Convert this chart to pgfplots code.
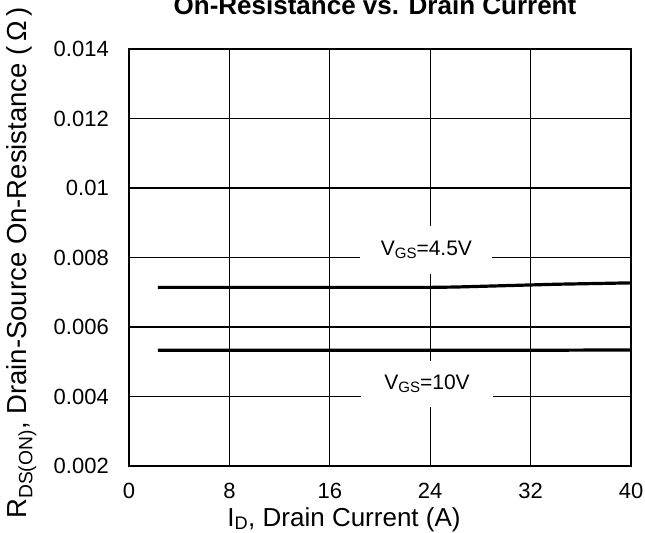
\documentclass[border=0pt]{standalone}
\usepackage{fontspec}
\setmainfont{Liberation Sans}
\usepackage{pgfplots}
\pgfplotsset{compat=1.18}
\pgfplotstableread{
x y
2.3 0.00714
8 0.00714
16 0.00714
24 0.00714
26 0.00715
30 0.00719
34 0.00723
40 0.00727
}\vgsA
\pgfplotstableread{
x y
2.3 0.00533
8 0.00533
16 0.00533
24 0.00533
32 0.00533
40 0.00534
}\vgsB
\begin{document}
\begin{tikzpicture}
\begin{axis}[
  at={(0,0)}, anchor=south west,
  scale only axis, width=502bp, height=417bp,
  xmin=0, xmax=40, ymin=0.002, ymax=0.014,
  xtick={0,8,16,24,32,40}, xticklabels={0,8,16,24,32,40},
  ytick={0.002,0.004,0.006,0.008,0.01,0.012,0.014},
  yticklabels={0.002,0.004,0.006,0.008,0.01,0.012,0.014},
  scaled y ticks=false,
  grid=major, major grid style={black, line width=1.3bp},
  axis line style={black, line width=1.5bp},
  major tick length=0pt,
  tick label style={font=\fontsize{22bp}{26bp}\selectfont, inner sep=0pt},
  xticklabel style={yshift=-17bp},
  yticklabel style={xshift=-20bp},
]
\addplot[black, line width=3.2bp, no marks] table[x=x,y=y] {\vgsA};
\addplot[black, line width=3.2bp, no marks] table[x=x,y=y] {\vgsB};
\node[fill=white, minimum width=132bp, minimum height=48bp, inner sep=0pt,
  font=\fontsize{21bp}{24bp}\selectfont] at (axis cs:23.7,0.00822)
  {V\raisebox{-0.25ex}{\fontsize{15bp}{16bp}\selectfont GS}=4.5V};
\node[fill=white, minimum width=132bp, minimum height=46bp, inner sep=0pt,
  font=\fontsize{21bp}{24bp}\selectfont] at (axis cs:23.75,0.00436)
  {V\raisebox{-0.25ex}{\fontsize{15bp}{16bp}\selectfont GS}=10V};
\end{axis}
\node[anchor=base, font=\bfseries\fontsize{26bp}{30bp}\selectfont] at (246bp,451bp) {On-Resistance vs. Drain Current};
\node[anchor=base, font=\fontsize{26bp}{30bp}\selectfont] at (215bp,-60bp) {I\textsubscript{D}, Drain Current (A)};
\node[anchor=base, rotate=90, font=\fontsize{27.5bp}{32bp}\selectfont] at (-102bp,203bp) {R\textsubscript{DS(ON)}, Drain-Source On-Resistance (\,Ω\,)};
\pgfresetboundingbox
\path[use as bounding box] (-129bp,-67bp) rectangle (516bp,466bp);
\end{tikzpicture}
\end{document}
